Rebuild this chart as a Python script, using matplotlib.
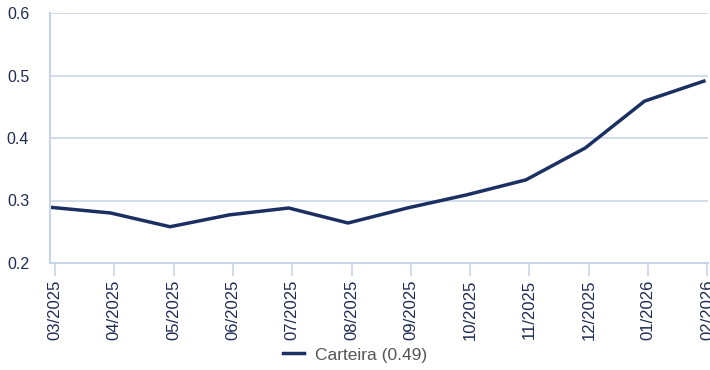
import matplotlib
matplotlib.use("Agg")
import matplotlib.pyplot as plt
import numpy as np

plt.rcParams['font.family'] = ['Liberation Sans', 'DejaVu Sans']

months = ["03/2025", "04/2025", "05/2025", "06/2025", "07/2025", "08/2025",
          "09/2025", "10/2025", "11/2025", "12/2025", "01/2026", "02/2026"]
carteira = [0.289, 0.280, 0.258, 0.277, 0.288, 0.264,
            0.288, 0.309, 0.333, 0.384, 0.459, 0.491]
series_label = "Carteira (0.49)"

navy = "#1b2f63"
grid_col = "#c9d5e6"
tick_text = "#1e2b50"

fig = plt.figure(figsize=(7.1, 3.7), dpi=100)
ax = fig.add_axes([50 / 710, 1 - 263 / 370, 658 / 710, 250 / 370])

x = np.arange(len(months))
ax.plot(x - 0.06, carteira, color=navy, lw=2.5, solid_joinstyle="round",
        label=series_label)

ax.set_ylim(0.2, 0.6)
ax.set_yticks([0.2, 0.3, 0.4, 0.5, 0.6])
ax.set_yticklabels(["0.2", "0.3", "0.4", "0.5", "0.6"])
ax.set_xlim(-0.084, 11.01)
ax.set_xticks(x)
ax.set_xticklabels(months, rotation=90)

ax.grid(axis="y", color=grid_col, lw=1.2)
ax.set_axisbelow(True)
for s in ["top", "right"]:
    ax.spines[s].set_visible(False)
for s in ["left", "bottom"]:
    ax.spines[s].set_color(grid_col)
    ax.spines[s].set_linewidth(1.5)

ax.tick_params(axis="y", length=0, pad=15, labelsize=11.5, labelcolor=tick_text)
ax.tick_params(axis="x", length=9, width=1.2, color=grid_col, pad=3,
               labelsize=12, labelcolor=tick_text)

leg = fig.legend(loc="center", bbox_to_anchor=(355 / 710, 1 - 355 / 370),
                 frameon=False, fontsize=12.5, handlelength=1.2,
                 handletextpad=0.6)
for t in leg.get_texts():
    t.set_color("#555555")

fig.savefig("out.png", dpi=100)
